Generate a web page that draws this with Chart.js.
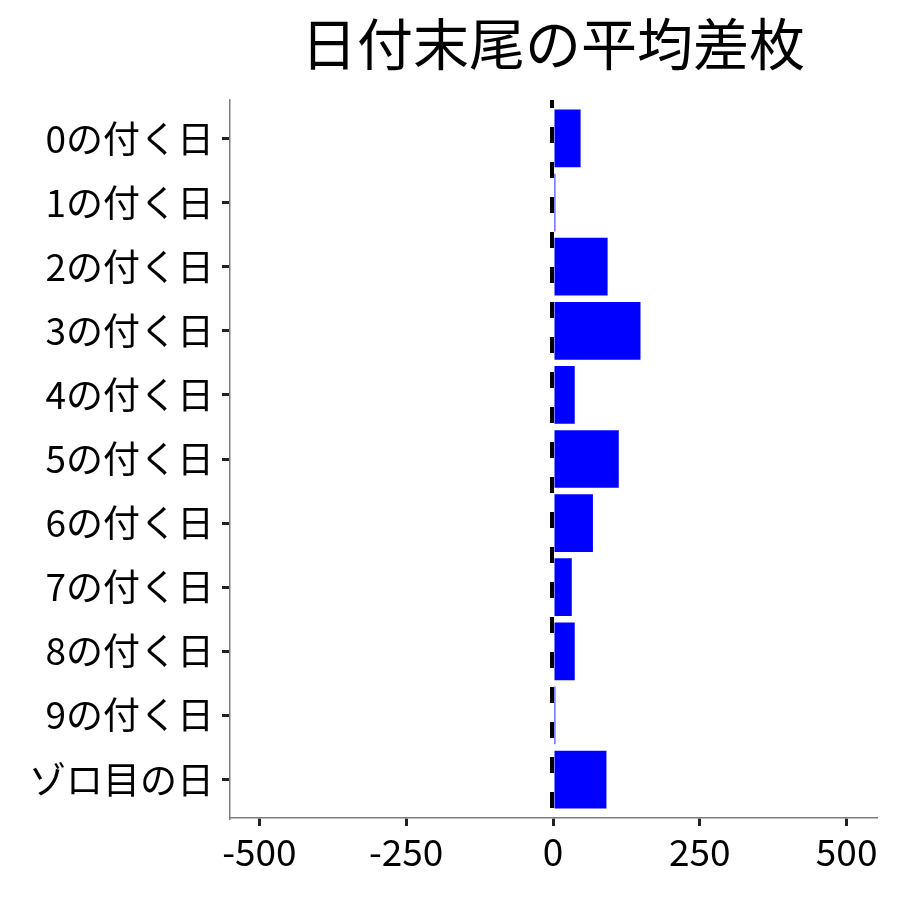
<!DOCTYPE html>
<html>
<head>
<meta charset="utf-8">
<script src="https://cdn.jsdelivr.net/npm/chart.js@4/dist/chart.umd.min.js"></script>
<style>
  html, body { margin: 0; padding: 0; background: #ffffff; }
  #wrap { width: 900px; height: 900px; }
</style>
</head>
<body>
<div id="wrap"><canvas id="diffChart" width="900" height="900"></canvas></div>
<script>
// Data
const chartTitle = '日付末尾の平均差枚';
const categories = ['0の付く日', '1の付く日', '2の付く日', '3の付く日', '4の付く日',
    '5の付く日', '6の付く日', '7の付く日', '8の付く日', '9の付く日', 'ゾロ目の日'];
const avgDiff = [47, 4, 93, 149, 37, 112, 68, 32, 37, 4, 91];
const xTicks = [-500, -250, 0, 250, 500];

const JP_FONT = '"Noto Sans CJK JP", "Noto Sans", sans-serif';

// Title centred over the plot area plus the dashed zero line
const overlayPlugin = {
    id: 'overlay',
    afterDatasetsDraw(chart) {
        const { ctx, chartArea, scales } = chart;
        const x0 = scales.x.getPixelForValue(0);
        ctx.save();
        ctx.strokeStyle = '#000000';
        ctx.lineWidth = 4;
        ctx.setLineDash([16, 19]);
        ctx.lineDashOffset = 8;
        ctx.beginPath();
        ctx.moveTo(x0 - 1, chartArea.top);
        ctx.lineTo(x0 - 1, chartArea.bottom);
        ctx.stroke();
        ctx.restore();
    },
    afterDraw(chart) {
        const { ctx, chartArea } = chart;
        ctx.save();
        ctx.fillStyle = '#000000';
        ctx.font = '56px ' + JP_FONT;
        ctx.textAlign = 'center';
        ctx.textBaseline = 'middle';
        ctx.fillText(chartTitle, (chartArea.left + chartArea.right) / 2, 44);
        ctx.restore();
    }
};

const ctx = document.getElementById('diffChart').getContext('2d');
new Chart(ctx, {
    type: 'bar',
    data: {
        datasets: [{
            data: avgDiff.map((v, i) => ({ x: v, y: i })),
            backgroundColor: '#0000ff',
            borderWidth: 0,
            barPercentage: 0.9,
            categoryPercentage: 1.0
        }]
    },
    options: {
        indexAxis: 'y',
        responsive: false,
        animation: false,
        layout: { padding: { top: 100, right: 24, bottom: 0, left: 0 } },
        plugins: {
            legend: { display: false },
            tooltip: { enabled: false }
        },
        scales: {
            x: {
                type: 'linear',
                min: -550,
                max: 550,
                afterBuildTicks: s => { s.ticks = xTicks.map(v => ({ value: v })); },
                afterFit: s => { s.height = 82; },
                grid: {
                    drawOnChartArea: false, drawTicks: true, tickLength: 8,
                    color: '#333333', lineWidth: 3, tickColor: '#222222', tickWidth: 3
                },
                border: { color: '#7f7f7f', width: 1.5 },
                ticks: {
                    color: '#000000',
                    font: { family: JP_FONT, size: 37 },
                    padding: 4,
                    maxRotation: 0
                }
            },
            y: {
                type: 'linear',
                reverse: true,
                offset: false,
                min: -0.6,
                max: categories.length - 0.4,
                afterBuildTicks: s => { s.ticks = categories.map((_, i) => ({ value: i })); },
                afterFit: s => { s.width = 230; },
                grid: {
                    offset: false, drawOnChartArea: false, drawTicks: true, tickLength: 8,
                    color: '#333333', lineWidth: 3, tickColor: '#222222', tickWidth: 3
                },
                border: { color: '#7f7f7f', width: 1.5 },
                ticks: {
                    color: '#000000',
                    font: { family: JP_FONT, size: 37 },
                    padding: 8,
                    callback: v => categories[v]
                }
            }
        }
    },
    plugins: [overlayPlugin]
});
</script>
</body>
</html>
